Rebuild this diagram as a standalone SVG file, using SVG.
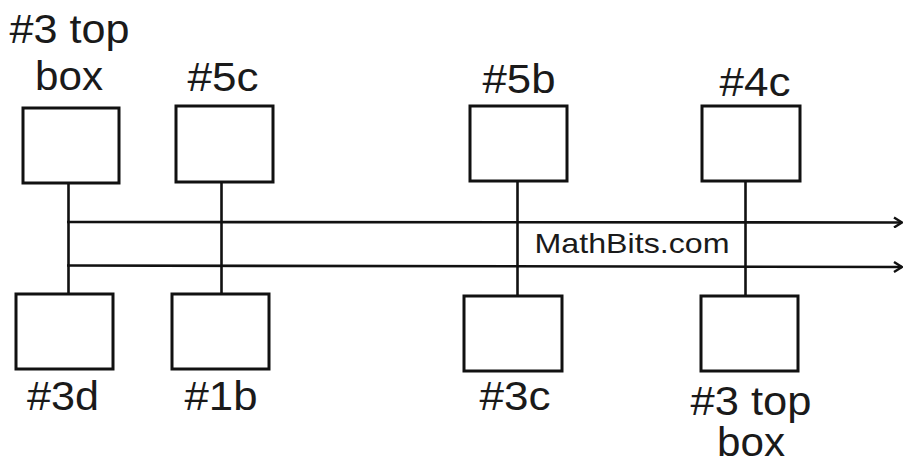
<svg xmlns="http://www.w3.org/2000/svg" width="904" height="463" viewBox="0 0 904 463">
<style>
.box{fill:#fff;stroke:#111;stroke-width:3}
.ln{stroke:#111;stroke-width:2.6;fill:none}
.lbl{font-family:"Liberation Sans",Arial,sans-serif;font-size:40px;fill:#1a1a1a;text-anchor:middle}
.wm{font-family:"Liberation Sans",Arial,sans-serif;font-size:28px;fill:#1a1a1a;text-anchor:middle}
</style>
<defs>
<marker id="arr" viewBox="0 0 10 12" refX="9" refY="6" markerWidth="10" markerHeight="12" markerUnits="userSpaceOnUse" orient="auto">
<path d="M1,1 L9,6 L1,11" fill="none" stroke="#111" stroke-width="2.4"/>
</marker>
</defs>
<rect width="904" height="463" fill="#fff"/>
<g id="connectors">
<line class="ln" x1="68.5" y1="183" x2="68.5" y2="294"/>
<line class="ln" x1="221.5" y1="182" x2="221.5" y2="294"/>
<line class="ln" x1="517.5" y1="181" x2="517.5" y2="296"/>
<line class="ln" x1="745.5" y1="181" x2="745.5" y2="296"/>
<line class="ln" x1="67" y1="222" x2="902" y2="222.5" marker-end="url(#arr)"/>
<line class="ln" x1="67" y1="265.5" x2="902" y2="267" marker-end="url(#arr)"/>
</g>
<g id="node-top1">
<rect class="box" x="23" y="108" width="96" height="75"/>
<text class="lbl" x="69.5" y="43" textLength="120" lengthAdjust="spacingAndGlyphs">#3 top</text>
<text class="lbl" x="69" y="90" textLength="68" lengthAdjust="spacingAndGlyphs">box</text>
</g>
<g id="node-top2">
<rect class="box" x="176" y="106" width="97" height="76"/>
<text class="lbl" x="223" y="91" textLength="71" lengthAdjust="spacingAndGlyphs">#5c</text>
</g>
<g id="node-top3">
<rect class="box" x="470" y="106" width="97" height="75"/>
<text class="lbl" x="519" y="93" textLength="73" lengthAdjust="spacingAndGlyphs">#5b</text>
</g>
<g id="node-top4">
<rect class="box" x="702" y="106" width="98" height="75"/>
<text class="lbl" x="755" y="96" textLength="71" lengthAdjust="spacingAndGlyphs">#4c</text>
</g>
<g id="node-bot1">
<rect class="box" x="16" y="294" width="97" height="75"/>
<text class="lbl" x="63" y="410" textLength="72" lengthAdjust="spacingAndGlyphs">#3d</text>
</g>
<g id="node-bot2">
<rect class="box" x="172" y="294" width="97" height="75"/>
<text class="lbl" x="221" y="410" textLength="73" lengthAdjust="spacingAndGlyphs">#1b</text>
</g>
<g id="node-bot3">
<rect class="box" x="464" y="296" width="98" height="75"/>
<text class="lbl" x="515" y="410" textLength="71" lengthAdjust="spacingAndGlyphs">#3c</text>
</g>
<g id="node-bot4">
<rect class="box" x="701" y="296" width="97" height="75"/>
<text class="lbl" x="751" y="415" textLength="121" lengthAdjust="spacingAndGlyphs">#3 top</text>
<text class="lbl" x="751" y="456" textLength="68" lengthAdjust="spacingAndGlyphs">box</text>
</g>
<text class="wm" x="632" y="253" textLength="195" lengthAdjust="spacingAndGlyphs">MathBits.com</text>
</svg>
